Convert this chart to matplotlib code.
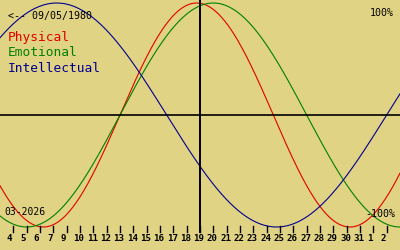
import datetime as dt
import numpy as np
import matplotlib
matplotlib.use("Agg")
import matplotlib.pyplot as plt

# biorhythm for birth date shown on the chart, centred on 19 March 2026
birth = dt.date(1980, 5, 9)
today = dt.date(2026, 3, 19)
cycles = ["Physical", "Emotional", "Intellectual"]
periods = [23, 28, 33]
colors = ["#e00000", "#008000", "#000090"]

tick_days = list(range(-14, 15))
tick_labels = ["4", "5", "6", "7", "9", "10", "11", "12", "13", "14", "15", "16",
               "17", "18", "19", "20", "21", "22", "23", "24", "25", "26", "27",
               "28", "29", "30", "31", "1", "2"]

bg = "#e1d384"
W, H = 400, 250

fig = plt.figure(figsize=(4, 2.5), dpi=100, facecolor=bg)
ax = fig.add_axes([0, 0, 1, 1])
ax.set_facecolor(bg)
ax.set_axis_off()


# pixel -> data helpers (chart runs 30 days over 400 px, +-100% between y=3 and y=227)
def vy(py):
    return (115 - py) / 112.0


ax.set_xlim(-15, 15)
ax.set_ylim(vy(H), vy(0))

age = (today - birth).days
t = np.linspace(-15, 15, 801)
for name, p, c in zip(cycles, periods, colors):
    ax.plot(t, np.sin(2 * np.pi * (age + t) / p), color=c, lw=0.8, zorder=2)

ax.axhline(0, color="black", lw=1.2, zorder=3)
ax.plot([0, 0], [vy(0), vy(232)], color="black", lw=1.4, zorder=3)

mono = "DejaVu Sans Mono"
for d, lab in zip(tick_days, tick_labels):
    ax.plot([d, d], [vy(226), vy(232)], color="black", lw=1.0, zorder=3)
    shift = -0.27 if len(lab) == 1 else -0.08
    ax.text(d + shift, vy(238.5), lab, ha="center", va="center",
            fontsize=6.6, family=mono, fontweight="bold", color="black")


def ftext(px, py, s, **kw):
    fig.text(px / W, 1 - py / H, s, family=mono, va="center", **kw)


ftext(8, 16, "<-- 09/05/1980", fontsize=7.2, color="black")
for i, (name, c) in enumerate(zip(cycles, colors)):
    ftext(8, 38 + 15 * i, name, fontsize=9.3, color=c)
ftext(394, 13, "100%", fontsize=7.2, color="black", ha="right")
ftext(395, 214, "-100%", fontsize=7.2, color="black", ha="right")
ftext(4, 212, "03-2026", fontsize=7.0, color="black")

fig.savefig("out.png", dpi=100, facecolor=bg)
